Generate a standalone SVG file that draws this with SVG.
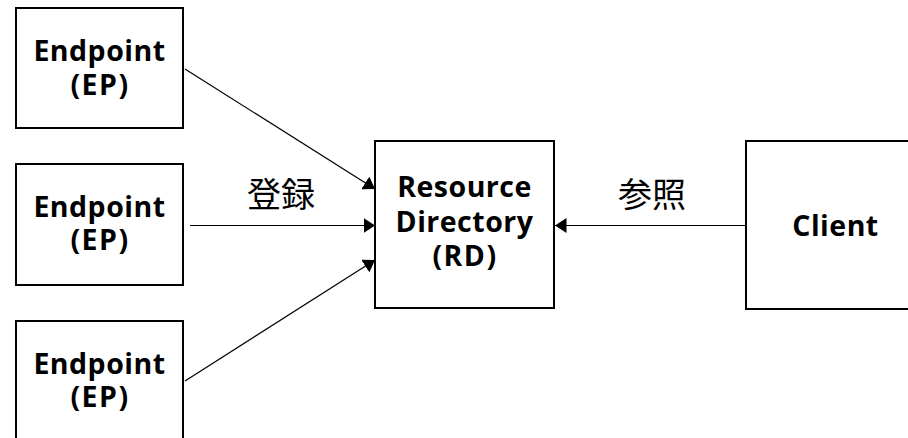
<svg xmlns="http://www.w3.org/2000/svg" width="908" height="438" viewBox="0 0 908 438">
  <style>
    .box { fill: #ffffff; stroke: #000000; stroke-width: 2; }
    .txt { font-family: "Open Sans", "Noto Sans", sans-serif; font-weight: 700; font-size: 28.5px; letter-spacing: 0.5px; fill: #000000; text-anchor: middle; }
    .par { letter-spacing: 1.5px; }
    .lbl { font-family: "Noto Sans CJK JP", sans-serif; font-weight: 400; font-size: 34px; fill: #000000; text-anchor: middle; }
    .conn { stroke: #000000; stroke-width: 1.2; fill: none; marker-end: url(#arrow); }
  </style>
  <defs>
    <marker id="arrow" markerUnits="userSpaceOnUse" markerWidth="12" markerHeight="15" refX="11.5" refY="7.5" orient="auto">
      <path d="M0,0 L11.5,7.5 L0,15 z" fill="#000000"/>
    </marker>
  </defs>

  <rect width="908" height="438" fill="#ffffff"/>

  <!-- connectors: three registrations into the directory, one lookup from the client -->
  <g id="connectors">
    <line class="conn" x1="185" y1="69" x2="375" y2="189"/>
    <line class="conn" x1="190" y1="225.5" x2="375" y2="225.5"/>
    <line class="conn" x1="185" y1="381" x2="375" y2="260"/>
    <line class="conn" x1="746" y1="225.5" x2="555" y2="225.5"/>
    <text class="lbl" x="281" y="207">登録</text>
    <text class="lbl" x="652" y="207">参照</text>
  </g>

  <g id="ep1">
    <rect class="box" x="16" y="8" width="167" height="120"/>
    <text class="txt" x="99.5" y="61">Endpoint<tspan class="par" x="100" dy="33.5">(EP)</tspan></text>
  </g>

  <g id="ep2">
    <rect class="box" x="16" y="164" width="167" height="121"/>
    <text class="txt" x="99.5" y="217">Endpoint<tspan class="par" x="100" dy="33">(EP)</tspan></text>
  </g>

  <g id="ep3">
    <rect class="box" x="16" y="321" width="167" height="121"/>
    <text class="txt" x="99.5" y="374">Endpoint<tspan class="par" x="100" dy="33">(EP)</tspan></text>
  </g>

  <g id="rd">
    <rect class="box" x="375" y="141" width="179" height="167"/>
    <text class="txt" x="464.5" y="197">Resource<tspan x="464.5" dy="34.5">Directory</tspan><tspan class="par" x="465" dy="34.5">(RD)</tspan></text>
  </g>

  <g id="client">
    <rect class="box" x="746" y="141" width="179" height="168"/>
    <text class="txt" x="835.5" y="236">Client</text>
  </g>
</svg>
